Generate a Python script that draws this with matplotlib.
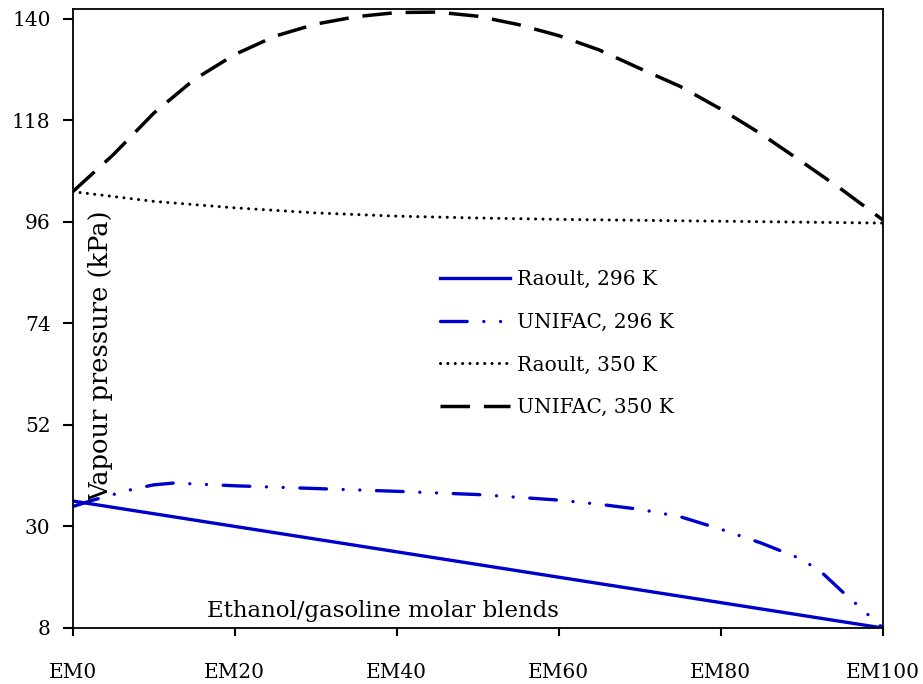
import numpy as np
import matplotlib
matplotlib.use("Agg")
import matplotlib.pyplot as plt

plt.rcParams['font.family'] = ['DejaVu Serif']
plt.rcParams['font.size'] = 14.5

# blend ethanol content (EM0 .. EM100)
x_raoult = [0, 10, 20, 30, 40, 50, 60, 70, 80, 90, 100]
raoult_296 = [35.5, 32.75, 30.0, 27.25, 24.5, 21.75, 19.0, 16.25, 13.5, 10.75, 8.0]
raoult_350 = [102.5, 100.4, 99.0, 97.9, 97.2, 96.8, 96.5, 96.3, 96.1, 95.9, 95.7]

x_unifac_296 = [0, 2.5, 5, 7.5, 10, 12.5, 15, 20, 30, 40, 50, 60, 65, 70, 75, 80, 85, 90, 92.5, 95, 97.5, 100]
unifac_296 = [34.3, 35.7, 36.9, 38.1, 39.0, 39.4, 39.2, 38.8, 38.2, 37.6, 36.9, 35.7, 34.8, 33.7, 32.1, 29.4, 26.4, 22.9, 20.0, 15.9, 12.0, 8.0]

x_unifac_350 = [0, 5, 10, 15, 20, 25, 30, 35, 40, 45, 50, 55, 60, 65, 70, 75, 80, 85, 90, 95, 100]
unifac_350 = [102.5, 110.5, 119.5, 126.8, 132.2, 136.2, 138.8, 140.4, 141.3, 141.4, 140.5, 138.7, 136.3, 133.2, 129.2, 125.3, 120.4, 115.0, 109.0, 102.9, 96.4]

xticks = [0, 20, 40, 60, 80, 100]
xtick_labels = ['EM0', 'EM20', 'EM40', 'EM60', 'EM80', 'EM100']
yticks = [8, 30, 52, 74, 96, 118, 140]

blue = '#0000CD'

fig = plt.figure(figsize=(9.23, 6.84), dpi=100)
ax = fig.add_axes([0.0788, 0.0819, 0.8775, 0.9045])

ax.plot(x_raoult, raoult_296, color=blue, lw=2.4, label='Raoult, 296 K')
ax.plot(x_unifac_296, unifac_296, color=blue, lw=2.4, dashes=(8, 5, 0.01, 5, 0.01, 5),
        dash_capstyle='round', label='UNIFAC, 296 K')
ax.plot(x_raoult, raoult_350, color='black', lw=2.2, dashes=(0.01, 2.4),
        dash_capstyle='round', label='Raoult, 350 K')
ax.plot(x_unifac_350, unifac_350, color='black', lw=2.5, dashes=(8.5, 4),
        label='UNIFAC, 350 K')

ax.set_xlim(0, 100)
ax.set_ylim(8, 142)
ax.set_xticks(xticks)
ax.set_xticklabels(xtick_labels)
ax.set_yticks(yticks)
ax.tick_params(axis='x', direction='out', length=6, width=1.5, pad=19)
ax.tick_params(axis='y', direction='out', length=7, width=1.5, pad=9)
for s in ax.spines.values():
    s.set_linewidth(1.3)

ax.text(0.0345, 0.4396, 'Vapour pressure (kPa)', rotation=90, ha='center', va='center',
        fontsize=18.5, transform=ax.transAxes)
ax.text(0.3825, 0.018, 'Ethanol/gasoline molar blends', ha='center', va='baseline',
        fontsize=16.5, transform=ax.transAxes)

ax.legend(loc='upper left', bbox_to_anchor=(0.4535, 0.578), frameon=False,
          borderpad=0, borderaxespad=0, handlelength=3.48, handletextpad=0.35,
          labelspacing=1.17)

fig.savefig('out.png', dpi=100)
